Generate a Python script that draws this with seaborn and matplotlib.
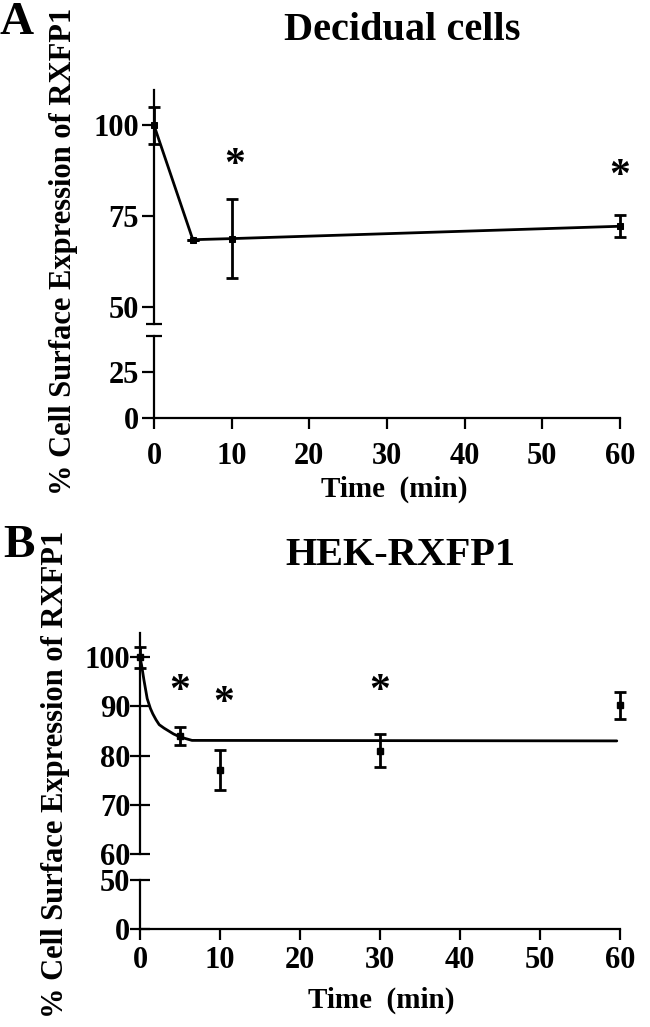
import numpy as np
import matplotlib
matplotlib.use("Agg")
import matplotlib.pyplot as plt
import seaborn as sns

# Panel A: decidual cells (mean +/- SEM, % of time 0)
time_a = [0, 5, 10, 60]
mean_a = [100, 68.5, 68.8, 72.2]
sem_a = [5.1, 0, 10.9, 3.0]
stars_a_t = [10.4, 60]
stars_a_y = [89.8, 86.9]

# Panel B: HEK-RXFP1
time_b = [0, 5, 10, 30, 60]
mean_b = [100, 84.0, 77.1, 81.0, 90.2]
sem_b = [2.1, 1.9, 4.1, 3.3, 2.7]
# fitted decay curve
fit_t = [0, 0.2, 0.5, 0.9, 1.3, 1.6, 2.0, 2.4, 3.0, 3.5, 4.2, 5, 6.5, 59.6]
fit_y = [100, 98.4, 95.3, 91.6, 89.6, 88.5, 87.3, 86.3, 85.6, 85.1, 84.4, 83.8, 83.1, 83.0]
stars_b_t = [5, 10.5, 30]
stars_b_y = [93.7, 91.3, 93.7]

x_ticks = [0, 10, 20, 30, 40, 50, 60]

sns.set_theme(style="ticks")
plt.rcParams['font.family'] = ['Liberation Serif', 'DejaVu Serif']
plt.rcParams['font.weight'] = 'bold'
plt.rcParams['axes.linewidth'] = 1.6
for key in ['text.color', 'axes.labelcolor', 'xtick.color', 'ytick.color', 'axes.edgecolor']:
    plt.rcParams[key] = 'black'

W, H = 650, 1027
fig = plt.figure(figsize=(W / 100, H / 100), dpi=100)


def box(x0, x1, ytop, ybot):
    return [x0 / W, 1 - ybot / H, (x1 - x0) / W, (ybot - ytop) / H]


def style_pair(up, low, up_ticks, low_ticks, ydir, ylen, ypad, xpad):
    for ax in (up, low):
        ax.set_facecolor('none')
        ax.spines['top'].set_visible(False)
        ax.spines['right'].set_visible(False)
        ax.set_xlim(0, 60)
        ax.tick_params(axis='y', direction=ydir, length=ylen, width=1.6,
                       labelsize=22, pad=ypad)
    up.spines['bottom'].set_visible(False)
    up.tick_params(axis='x', bottom=False, labelbottom=False)
    low.set_xticks(x_ticks)
    low.tick_params(axis='x', direction='out', length=8, width=1.6,
                    labelsize=22, pad=xpad)
    up.set_yticks(up_ticks)
    low.set_yticks(low_ticks)
    # caps at the axis break
    up.set_yticks([up.get_ylim()[0]], minor=True)
    low.set_yticks([low.get_ylim()[1]], minor=True)
    for ax in (up, low):
        ax.tick_params(axis='y', which='minor', direction='inout', length=12, width=1.6)


def draw_stars(ax, ts, ys):
    for t, y in zip(ts, ys):
        ax.annotate('*', xy=(t, y), xytext=(0, -10), textcoords='offset points',
                    ha='center', va='baseline', fontsize=30, fontweight='bold',
                    color='black', annotation_clip=False)


# ---------- Panel A ----------
axA = fig.add_axes(box(154, 620, 90, 324))
axA_low = fig.add_axes(box(154, 620, 336, 418))
axA.set_ylim(45.3, 109.7)
axA_low.set_ylim(0, 44.6)
style_pair(axA, axA_low, [50, 75, 100], [0, 25], 'out', 9, 2, 9)

sns.lineplot(x=time_a, y=mean_a, ax=axA, color='black', lw=2,
             marker='s', markersize=5, markeredgecolor='black', clip_on=False)
axA.errorbar(time_a, mean_a, yerr=sem_a, fmt='none', ecolor='black',
             elinewidth=2, capsize=4.5, capthick=2, clip_on=False)
draw_stars(axA, stars_a_t, stars_a_y)

fig.text(0.0, 1 - 34 / H, 'A', fontsize=34, fontweight='bold', va='baseline', ha='left')
fig.text(402 / W, 1 - 40 / H, 'Decidual cells', fontsize=29, fontweight='bold',
         ha='center', va='baseline')
fig.text(394 / W, 1 - 497 / H, 'Time  (min)', fontsize=21, fontweight='bold',
         ha='center', va='baseline')
fig.text(64 / W, 1 - 251 / H, '% Cell Surface Expression of RXFP1', fontsize=22,
         fontweight='bold', rotation=90, ha='center', va='center')

# ---------- Panel B ----------
axB = fig.add_axes(box(140, 620, 632.7, 854))
axB_low = fig.add_axes(box(140, 620, 880, 929.3))
axB.set_ylim(60, 105)
axB_low.set_ylim(0, 50)
style_pair(axB, axB_low, [60, 70, 80, 90, 100], [0, 50], 'inout', 14, 0, 4)

sns.lineplot(x=fit_t, y=fit_y, ax=axB, color='black', lw=2, clip_on=False)
axB.errorbar(time_b, mean_b, yerr=sem_b, fmt='s', ms=5, color='black',
             elinewidth=2, capsize=4.5, capthick=2, clip_on=False)
draw_stars(axB, stars_b_t, stars_b_y)

fig.text(0.005, 1 - 557 / H, 'B', fontsize=34, fontweight='bold', va='baseline', ha='left')
fig.text(400 / W, 1 - 565 / H, 'HEK-RXFP1', fontsize=29, fontweight='bold',
         ha='center', va='baseline')
fig.text(381 / W, 1 - 1008 / H, 'Time  (min)', fontsize=21, fontweight='bold',
         ha='center', va='baseline')
fig.text(56 / W, 1 - 774 / H, '% Cell Surface Expression of RXFP1', fontsize=22,
         fontweight='bold', rotation=90, ha='center', va='center')

fig.savefig('out.png', dpi=100)
